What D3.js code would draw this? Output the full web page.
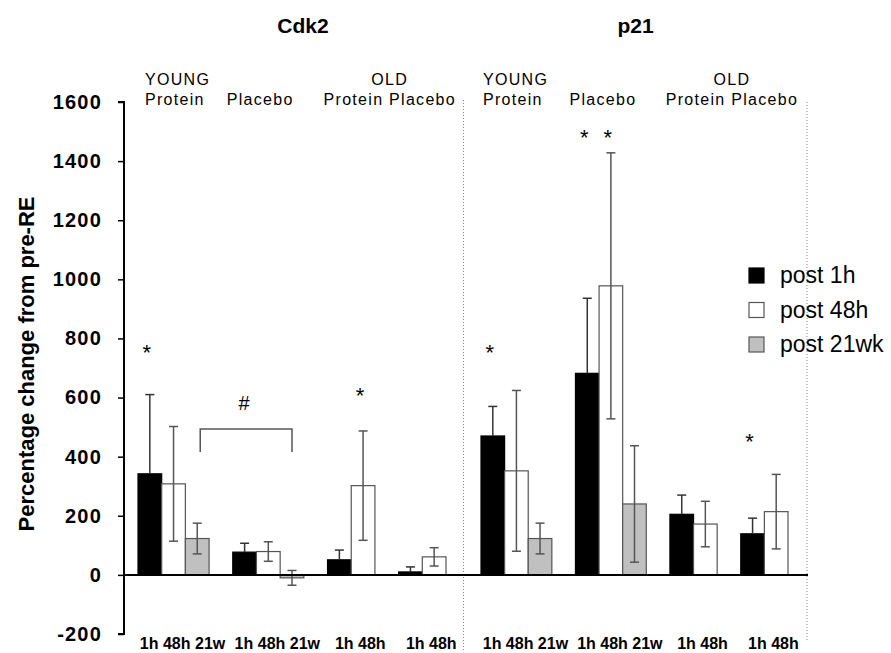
<!DOCTYPE html>
<html>
<head>
<meta charset="utf-8">
<script src="https://cdnjs.cloudflare.com/ajax/libs/d3/7.8.5/d3.min.js"></script>
<style>
  body { margin: 0; background: #fff; }
  svg text { font-family: Arial, "Liberation Sans", sans-serif; }
</style>
</head>
<body>
<div id="root"></div>
<script>
// values
const genes = ["Cdk2", "p21"]
const groupNames = ["Young Protein", "Young Placebo", "Old Protein", "Old Placebo"]
const groupTimes = [["1h", "48h", "21w"], ["1h", "48h", "21w"], ["1h", "48h"], ["1h", "48h"]]
const cdk2Mean = [[342, 308, 123], [77, 79, -10], [51, 302], [10, 61]]
const cdk2Err = [[268, 194, 52], [30, 33, 25], [33, 185], [17, 31]]
const p21Mean = [[470, 352, 123], [682, 978, 240], [205, 172], [139, 214]]
const p21Err = [[100, 272, 52], [254, 450, 197], [65, 77], [53, 126]]
const yTicks = [-200, 0, 200, 400, 600, 800, 1000, 1200, 1400, 1600]
const legendLabels = ["post 1h", "post 48h", "post 21wk"]
// significance marks: gene, group index, time, height of mark
const stars = [
  { gene: 0, g: 0, t: "1h", v: 768 },
  { gene: 0, g: 2, t: "48h", v: 623 },
  { gene: 1, g: 0, t: "1h", v: 768 },
  { gene: 1, g: 1, t: "1h", v: 1496 },
  { gene: 1, g: 1, t: "48h", v: 1496 },
  { gene: 1, g: 3, t: "1h", v: 467 }
]

const W = 891, H = 653
const fills = { "1h": "#000", "48h": "#fff", "21w": "#c0c0c0" }
const strokes = { "1h": "#000", "48h": "#555", "21w": "#555" }

const svg = d3.select("#root").append("svg").attr("width", W).attr("height", H)

const y = d3.scaleLinear().domain([-200, 1600]).range([634, 102])

// slots per panel, with an empty slot between groups
let slots = []
groupNames.forEach((g, gi) => {
  groupTimes[gi].forEach(t => slots.push(gi + "|" + t))
  if (gi < groupNames.length - 1) slots.push("gap" + gi)
})
const panelRanges = [[138, 446], [481, 788]]
const xs = panelRanges.map(r => d3.scaleBand().domain(slots).range(r).padding(0))

const axisX = 124
const sepX = (panelRanges[0][1] + panelRanges[1][0]) / 2
const rightX = panelRanges[1][1] + 19

// y axis
const yAxis = svg.append("g").attr("transform", `translate(${axisX},0)`)
  .call(d3.axisLeft(y).tickValues(yTicks).tickSize(6).tickPadding(16).tickFormat(d => String(d)))
yAxis.select(".domain").attr("stroke-width", 2).attr("d", `M-6,${y(1600)}H0V${y(-200)}H-6`)
yAxis.selectAll(".tick line").attr("stroke-width", 1.5)
yAxis.selectAll(".tick text").attr("font-size", 20).attr("font-weight", "bold")
  .attr("letter-spacing", 1.2).attr("fill", "#000").attr("font-family", "Arial, 'Liberation Sans', sans-serif")

svg.append("text")
  .attr("transform", `translate(34,${(y(1600) + y(-200)) / 2 - 4}) rotate(-90)`)
  .attr("text-anchor", "middle").attr("font-size", 22).attr("font-weight", "bold")
  .text("Percentage change from pre-RE")

// dotted separators
svg.append("line").attr("x1", sepX).attr("x2", sepX).attr("y1", 100).attr("y2", 651)
  .attr("stroke", "#888").attr("stroke-dasharray", "1,2")
svg.append("line").attr("x1", rightX).attr("x2", rightX).attr("y1", 102).attr("y2", 641)
  .attr("stroke", "#888").attr("stroke-dasharray", "1,2")

genes.forEach((gene, k) => {
  const x = xs[k]
  const means = k == 0 ? cdk2Mean : p21Mean
  const errs = k == 0 ? cdk2Err : p21Err
  let bars = []
  groupNames.forEach((g, gi) => {
    groupTimes[gi].forEach((t, ti) => {
      bars.push({ key: gi + "|" + t, t: t, mean: means[gi][ti], err: errs[gi][ti] })
    })
  })

  const panel = svg.append("g")
  panel.selectAll("rect.bar").data(bars).enter().append("rect")
    .attr("class", "bar")
    .attr("x", d => x(d.key))
    .attr("width", x.bandwidth())
    .attr("y", d => y(Math.max(0, d.mean)))
    .attr("height", d => Math.abs(y(d.mean) - y(0)))
    .attr("fill", d => fills[d.t])
    .attr("stroke", d => strokes[d.t])
    .attr("stroke-width", 1.2)

  const eb = panel.selectAll("g.err").data(bars).enter().append("g")
    .attr("stroke", d => d.t == "1h" ? "#333" : "#555").attr("stroke-width", 1.5)
  const cx = d => x(d.key) + x.bandwidth() / 2
  // black bars hide the lower half of their error bar
  const lo = d => d.t == "1h" ? d.mean : d.mean - d.err
  eb.append("line").attr("x1", cx).attr("x2", cx)
    .attr("y1", d => y(d.mean + d.err)).attr("y2", d => y(lo(d)))
  eb.append("line").attr("x1", d => cx(d) - 4.5).attr("x2", d => cx(d) + 4.5)
    .attr("y1", d => y(d.mean + d.err)).attr("y2", d => y(d.mean + d.err))
  eb.filter(d => d.t != "1h").append("line").attr("x1", d => cx(d) - 4.5).attr("x2", d => cx(d) + 4.5)
    .attr("y1", d => y(d.mean - d.err)).attr("y2", d => y(d.mean - d.err))

  // title
  const pStart = x(slots[0]), pEnd = x(slots[slots.length - 1]) + x.bandwidth()
  svg.append("text").attr("x", (pStart + pEnd) / 2 + (k == 0 ? 11 : 1)).attr("y", 33)
    .attr("text-anchor", "middle").attr("font-size", 21).attr("font-weight", "bold").text(gene)

  // group headers
  const hdr = svg.append("g").attr("font-size", 16).attr("letter-spacing", 1.3)
  hdr.append("text").attr("x", x("0|1h") + (k == 0 ? 7 : 2)).attr("y", 85).text("YOUNG")
  hdr.append("text").attr("x", x("0|1h") + (k == 0 ? 7 : 2)).attr("y", 105).text("Protein")
  hdr.append("text").attr("x", x("1|1h") - 6).attr("y", 105).text("Placebo")
  const oldMid = (x("2|1h") + x("3|48h") + x.bandwidth()) / 2 + 3
  hdr.append("text").attr("x", oldMid).attr("y", 85).attr("text-anchor", "middle").text("OLD")
  hdr.append("text").attr("x", oldMid).attr("y", 105).attr("text-anchor", "middle").text("Protein Placebo")

  // x labels
  groupNames.forEach((g, gi) => {
    const t = groupTimes[gi]
    const gx = (x(gi + "|" + t[0]) + x(gi + "|" + t[t.length - 1]) + x.bandwidth()) / 2
    svg.append("text").attr("x", gx + 9).attr("y", 649).attr("text-anchor", "middle")
      .attr("font-size", 16).attr("font-weight", "bold")
      .text(t.join(" "))
  })

  // stars
  stars.filter(s => s.gene == k).forEach(s => {
    svg.append("text").attr("x", x(s.g + "|" + s.t) + x.bandwidth() / 2 - 3)
      .attr("y", y(s.v) + 12).attr("text-anchor", "middle").attr("font-size", 22).text("*")
  })

  if (k == 0) {
    // bracket between young groups, 21w
    const bx1 = x("0|21w") + x.bandwidth() / 2 + 3
    const bx2 = x("1|21w") + x.bandwidth() / 2
    svg.append("path").attr("d", `M${bx1},${y(416)}V${y(494)}H${bx2}V${y(416)}`)
      .attr("fill", "none").attr("stroke", "#555").attr("stroke-width", 1.5)
    svg.append("text").attr("x", (bx1 + bx2) / 2 - 2).attr("y", y(494) - 19)
      .attr("text-anchor", "middle").attr("font-size", 20).text("#")
  }
})

// zero line
svg.append("line").attr("x1", axisX).attr("x2", rightX + 1).attr("y1", y(0)).attr("y2", y(0))
  .attr("stroke", "#000").attr("stroke-width", 2)

// legend
const leg = svg.append("g").attr("transform", "translate(749,268)")
const legKeys = ["1h", "48h", "21w"]
legKeys.forEach((t, i) => {
  leg.append("rect").attr("x", 0).attr("y", i * 34.5).attr("width", 15).attr("height", 15)
    .attr("fill", fills[t]).attr("stroke", strokes[t]).attr("stroke-width", 1.2)
  leg.append("text").attr("x", 31).attr("y", i * 34.5 + 15).attr("font-size", 23).text(legendLabels[i])
})
</script>
</body>
</html>
